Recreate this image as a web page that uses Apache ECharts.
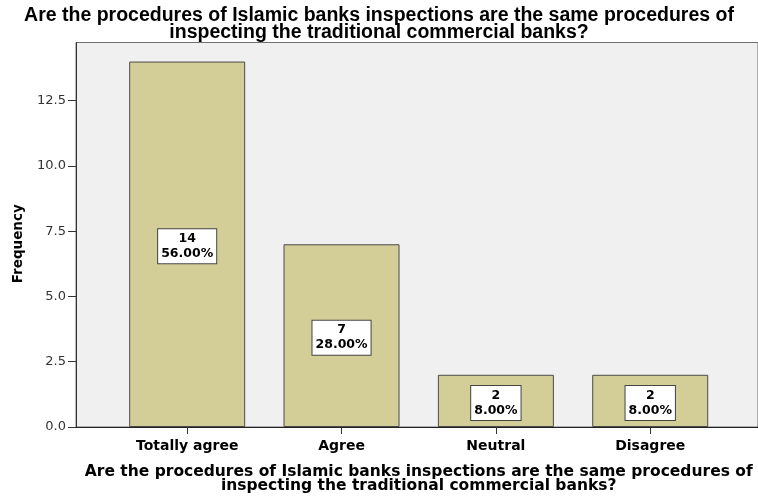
<!DOCTYPE html>
<html>
<head>
<meta charset="utf-8">
<script src="https://cdn.jsdelivr.net/npm/echarts@6/dist/echarts.min.js"></script>
<style>
  html, body { margin: 0; padding: 0; background: #ffffff; }
  #chart { width: 758px; height: 499px; }
</style>
</head>
<body>
<div id="chart"></div>
<script>
// Survey question and responses
const questionText = 'Are the procedures of Islamic banks inspections are the same procedures of\ninspecting the traditional commercial banks?';
const categories = ['Totally agree', 'Agree', 'Neutral', 'Disagree'];
const frequencies = [14, 7, 2, 2];
const percents = ['56.00%', '28.00%', '8.00%', '8.00%'];
const yTicks = [0, 2.5, 5, 7.5, 10, 12.5];
const yMax = 14.73;

const chart = echarts.init(document.getElementById('chart'), null, { renderer: 'canvas' });

const sansBold = { fontFamily: 'DejaVu Sans', fontWeight: 'bold', color: '#000' };

chart.setOption({
  animation: false,
  backgroundColor: '#ffffff',
  title: {
    text: questionText,
    left: 'center',
    top: 2,
    textStyle: { fontFamily: 'Liberation Sans', fontWeight: 'bold', fontSize: 19.5, lineHeight: 17, color: '#000' }
  },
  grid: [
    // framed plot panel
    { left: 76, top: 42.5, right: -5, bottom: 72, show: true, backgroundColor: '#f0f0f0', borderColor: '#707070', borderWidth: 1 },
    // band area holding the bars
    { left: 110, top: 42.5, right: 30.6, bottom: 72 }
  ],
  xAxis: [
    {
      gridIndex: 0, type: 'value', min: 0, max: 1,
      axisLine: { show: true, lineStyle: { color: '#222', width: 1 } },
      axisTick: { show: false }, axisLabel: { show: false }, splitLine: { show: false }
    },
    {
      gridIndex: 1, type: 'category', data: categories,
      axisLine: { show: false },
      axisTick: { show: true, alignWithLabel: true, length: 7, lineStyle: { color: '#333' } },
      axisLabel: Object.assign({ fontSize: 14, margin: 12 }, sansBold),
      name: questionText,
      nameLocation: 'middle',
      nameGap: 38,
      nameTextStyle: Object.assign({ fontSize: 15.5, lineHeight: 14 }, sansBold)
    }
  ],
  yAxis: [
    {
      gridIndex: 0, type: 'value', min: 0, max: yMax, interval: 2.5,
      axisLine: { show: true, lineStyle: { color: '#333' } },
      axisTick: { show: true, length: 8, customValues: yTicks, lineStyle: { color: '#333' } },
      axisLabel: {
        customValues: yTicks, margin: 10, fontFamily: 'DejaVu Sans', fontSize: 13, color: '#333',
        formatter: v => v.toFixed(1)
      },
      splitLine: { show: false },
      name: 'Frequency',
      nameLocation: 'middle',
      nameGap: 51,
      nameTextStyle: Object.assign({ fontSize: 13.5, padding: [0, 18, 0, 0] }, sansBold)
    },
    { gridIndex: 1, type: 'value', min: 0, max: yMax, show: false }
  ],
  series: [{
    type: 'bar',
    xAxisIndex: 1,
    yAxisIndex: 1,
    data: frequencies,
    barWidth: 116,
    itemStyle: { color: '#d3ce97', borderColor: '#4a4a4a', borderWidth: 1 },
    label: {
      show: true,
      position: 'inside',
      offset: [0, 2],
      formatter: p => p.value + '\n' + percents[p.dataIndex],
      backgroundColor: '#ffffff',
      borderColor: '#444',
      borderWidth: 1,
      padding: [2, 3],
      fontFamily: 'DejaVu Sans',
      fontWeight: 'bold',
      fontSize: 12.5,
      lineHeight: 15,
      color: '#000'
    }
  }]
});
</script>
</body>
</html>
